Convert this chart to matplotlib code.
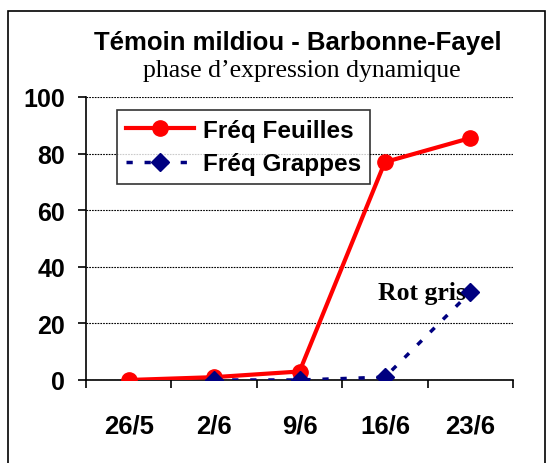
import numpy as np
import matplotlib
matplotlib.use("Agg")
import matplotlib.pyplot as plt
from matplotlib.patches import Rectangle

dates = ["26/5", "2/6", "9/6", "16/6", "23/6"]
freq_feuilles = [0, 1, 3, 77, 85.5]
freq_grappes = [np.nan, 0, 0, 1, 31]
y_ticks = [0, 20, 40, 60, 80, 100]

plt.rcParams["font.family"] = ["Liberation Sans", "DejaVu Sans"]
SERIF = ["Liberation Serif", "DejaVu Serif"]

fig = plt.figure(figsize=(5.46, 4.64), dpi=100)
ax = fig.add_axes([0.1575, 0.1789, 0.7821, 0.6099])

x = np.arange(len(dates))
ax.plot(x, freq_feuilles, color="#ff0000", lw=3, marker="o", markersize=11,
        label="Fréq Feuilles", zorder=3)
ax.plot(x, freq_grappes, color="#000080", lw=2.5, linestyle=(0, (1.8, 3.4)),
        marker="D", markersize=9, label="Fréq Grappes", zorder=4)

ax.set_xlim(-0.5, len(dates) - 0.5)
ax.set_ylim(0, 100)
ax.set_yticks(y_ticks)
ax.set_yticklabels([str(v) for v in y_ticks], fontsize=18, fontweight="bold")
ax.set_xticks(x)
ax.set_xticklabels(dates, fontsize=18.5, fontweight="bold")
ax.set_xticks(np.arange(len(dates) + 1) - 0.5, minor=True)
ax.tick_params(axis="x", which="major", length=0, pad=24)
ax.tick_params(axis="x", which="minor", length=6, width=1.2, direction="out")
ax.tick_params(axis="y", length=6, width=1.2, direction="out", pad=9)
ax.yaxis.grid(True, color="black", linestyle=(0, (1.5, 1)), lw=0.8)
ax.set_axisbelow(True)
for s in ["top", "right"]:
    ax.spines[s].set_visible(False)
ax.spines["left"].set_linewidth(1.2)
ax.spines["bottom"].set_linewidth(1.2)

ax.text(3.95, 31, "Rot gris", ha="right", va="center", fontsize=18.5,
        fontweight="bold", family=SERIF)

leg = ax.legend(loc="upper left", bbox_to_anchor=(0.073, 0.954),
                prop={"weight": "bold", "size": 17.5}, frameon=True,
                fancybox=False, edgecolor="black", handlelength=2.8,
                borderpad=0.35, labelspacing=0.45, handletextpad=0.4,
                borderaxespad=0)
leg.get_frame().set_linewidth(1.2)

fig.text(0.545, 0.908, "Témoin mildiou - Barbonne-Fayel", ha="center",
         va="center", fontsize=18.5, fontweight="bold")
fig.text(0.553, 0.847, "phase d\u2019expression dynamique", ha="center",
         va="center", fontsize=18.5, family=SERIF)

fig.add_artist(Rectangle((8 / 546, -0.01), 537 / 546, 1 - 12 / 464 + 0.01,
                         transform=fig.transFigure, fill=False,
                         edgecolor="black", lw=1.2))

fig.savefig("out.png", dpi=100)
